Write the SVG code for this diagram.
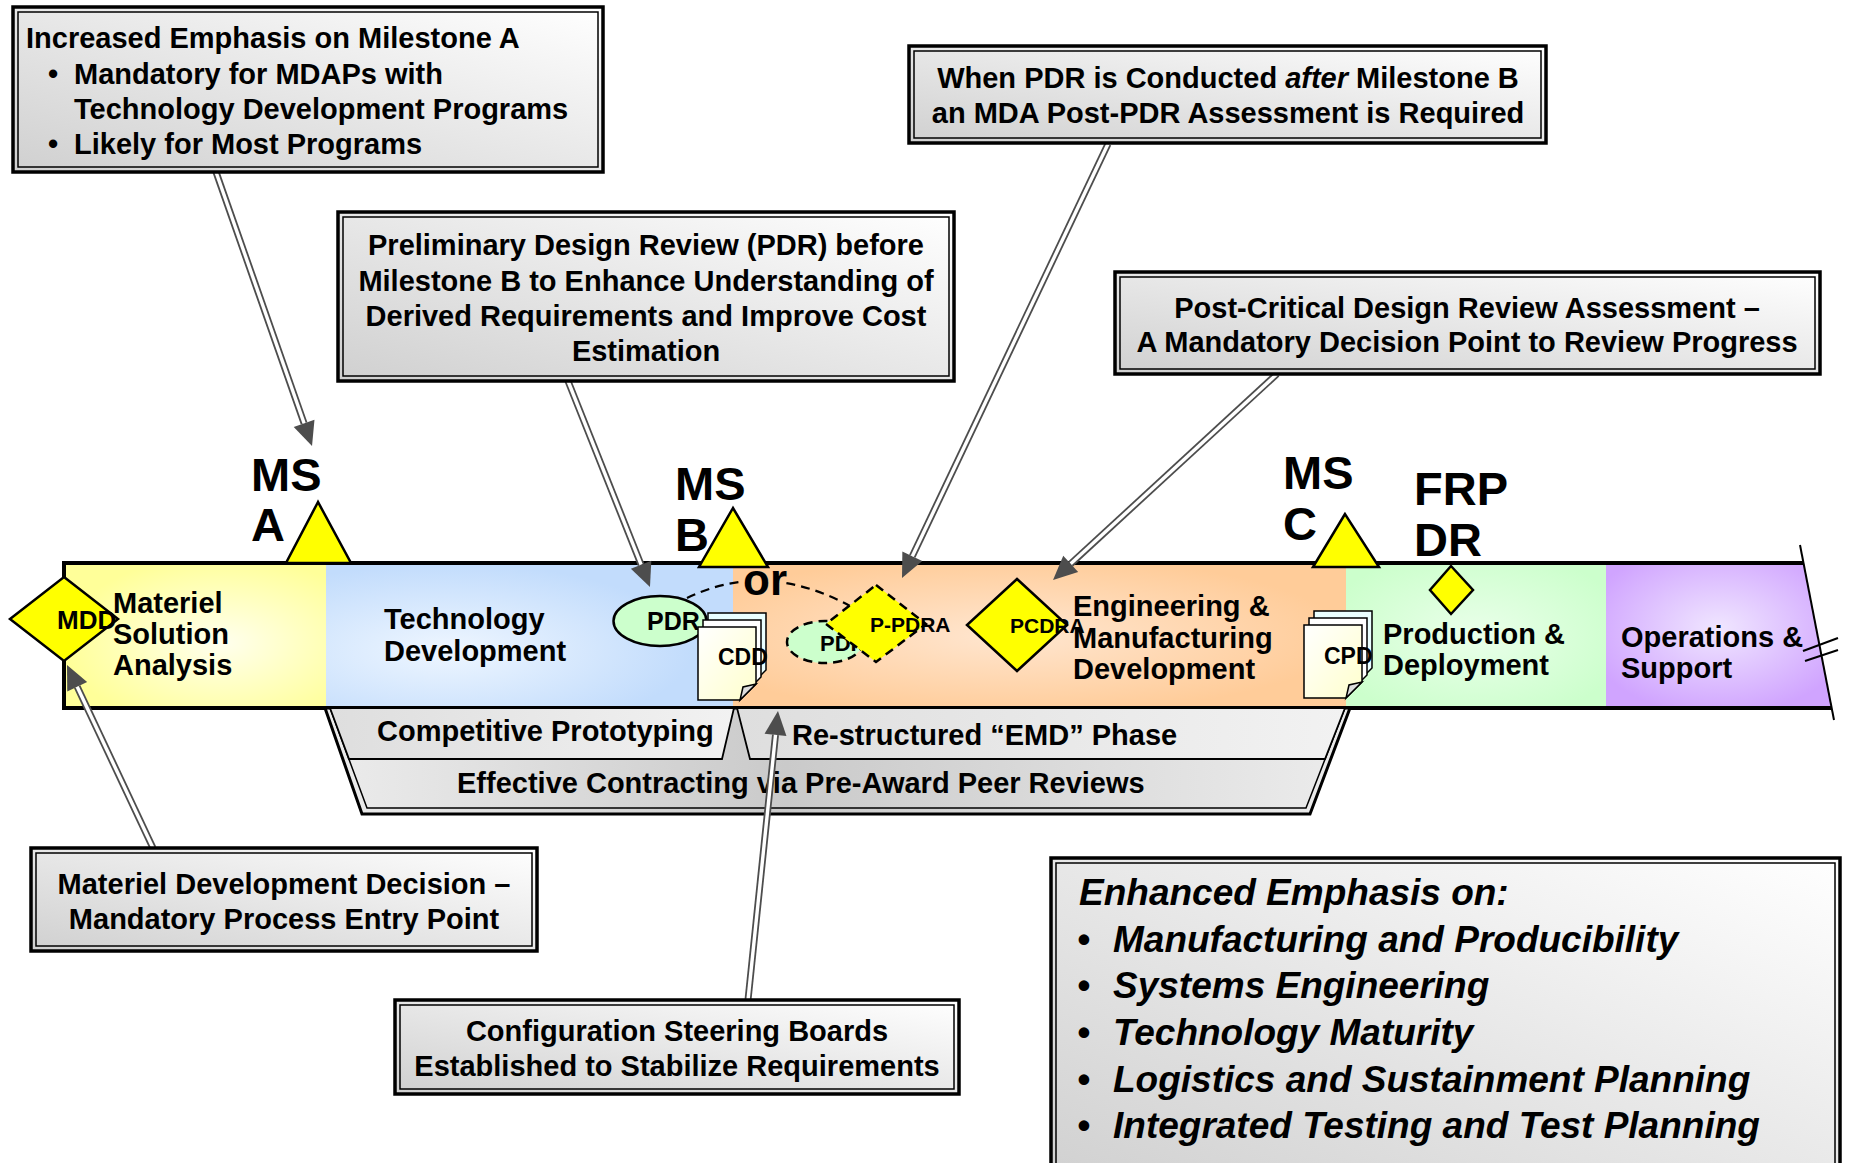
<svg xmlns="http://www.w3.org/2000/svg" width="1849" height="1163" viewBox="0 0 1849 1163">
<defs>
<style>
.t{font-family:"Liberation Sans",Arial,sans-serif;font-weight:bold;fill:#000}
.f29{font-size:29px}
.ms{font-size:47px}
.c{text-anchor:middle}
.it{font-style:italic}
.obox{fill:url(#gBox);stroke:#000;stroke-width:3.5}
.ibox{fill:none;stroke:#000;stroke-width:1.5}
.yel{fill:#ffff00;stroke:#000;stroke-width:2.5;stroke-linejoin:miter}
.dash{stroke-dasharray:9 6}
.co{fill:none;stroke:#4d4d4d;stroke-width:7;marker-end:url(#ah)}
.ci{fill:none;stroke:#fff;stroke-width:3.4}
.pg{stroke:#000;stroke-width:1.5;stroke-linejoin:miter}
</style>
<linearGradient id="gBox" x1="0" y1="1" x2="1" y2="0">
<stop offset="0" stop-color="#d0d0d0"/><stop offset="1" stop-color="#ffffff"/>
</linearGradient>
<radialGradient id="gMSA" cx="0.6" cy="0.55" r="0.6"><stop offset="0" stop-color="#ffffee"/><stop offset="1" stop-color="#ffff99"/></radialGradient>
<radialGradient id="gTD" cx="0.3" cy="0.6" r="0.6"><stop offset="0" stop-color="#eef6ff"/><stop offset="1" stop-color="#c2dcfc"/></radialGradient>
<radialGradient id="gEMD" cx="0.45" cy="0.5" r="0.55"><stop offset="0" stop-color="#ffe6d0"/><stop offset="1" stop-color="#ffcc99"/></radialGradient>
<radialGradient id="gPD" cx="0.5" cy="0.5" r="0.6"><stop offset="0" stop-color="#eaffea"/><stop offset="1" stop-color="#ccffcc"/></radialGradient>
<radialGradient id="gOS" cx="0.5" cy="0.45" r="0.6"><stop offset="0" stop-color="#f0e6ff"/><stop offset="1" stop-color="#d0a4ff"/></radialGradient>
<linearGradient id="gBandU" x1="0" y1="0" x2="1" y2="0"><stop offset="0" stop-color="#dedede"/><stop offset="1" stop-color="#f2f2f2"/></linearGradient>
<linearGradient id="gBandL" x1="0" y1="0" x2="1" y2="0"><stop offset="0" stop-color="#ececec"/><stop offset="0.45" stop-color="#cacaca"/><stop offset="1" stop-color="#ececec"/></linearGradient>
<linearGradient id="gPage" x1="0" y1="0" x2="1" y2="1"><stop offset="0" stop-color="#ffffff"/><stop offset="1" stop-color="#ffffcc"/></linearGradient>
<marker id="ah" markerUnits="userSpaceOnUse" markerWidth="26" markerHeight="24" refX="0" refY="11" orient="auto" overflow="visible">
<path d="M0,0 L24,11 L0,22 z" fill="#4d4d4d"/>
</marker>
<g id="docstack">
<polygon class="pg" fill="#eaffff" points="10,-14 68,-14 68,43 52,59 10,59"/>
<polygon class="pg" fill="#ffffff" points="5,-7 63,-7 63,50 47,66 5,66"/>
<polygon class="pg" fill="url(#gPage)" points="0,0 58,0 58,57 42,73 0,73"/>
<polygon class="pg" fill="#dddddd" points="42,73 58,57 45,60"/>
</g>
</defs>

<rect width="1849" height="1163" fill="#ffffff"/>

<!-- timeline bar -->
<g id="timeline">
<rect x="64" y="563" width="262" height="145" fill="url(#gMSA)"/>
<rect x="326" y="563" width="407" height="145" fill="url(#gTD)"/>
<rect x="733" y="563" width="613" height="145" fill="url(#gEMD)"/>
<rect x="1346" y="563" width="260" height="145" fill="url(#gPD)"/>
<polygon points="1606,563 1803.5,563 1831.7,708 1606,708" fill="url(#gOS)"/>
<path d="M1803.5,563 H64 V708 H1831.7" fill="none" stroke="#000" stroke-width="4"/>
<line x1="1800" y1="545" x2="1834" y2="720" stroke="#000" stroke-width="2"/>
<line x1="1803" y1="651" x2="1838" y2="638" stroke="#000" stroke-width="2"/>
<line x1="1805" y1="661" x2="1838" y2="650" stroke="#000" stroke-width="2"/>
</g>

<g id="phase-msa"><text class="t f29" x="113" y="613">Materiel</text><text class="t f29" x="113" y="644">Solution</text><text class="t f29" x="113" y="675">Analysis</text></g>

<g id="mdd">
<polygon class="yel" points="64,577 118,619 64,661 10,619"/>
<text class="t" font-size="26" x="57" y="629">MDD</text>
</g>

<g id="ms-a">
<polygon class="yel" points="318,502 286,563 351,563"/>
<text class="t ms" x="251" y="491">MS</text><text class="t ms" x="251" y="541">A</text>
</g>

<g id="phase-td"><text class="t f29" x="384" y="629">Technology</text><text class="t f29" x="384" y="661">Development</text></g>

<g id="pdr">
<ellipse cx="660" cy="621" rx="46.5" ry="25" fill="#ccffcc" stroke="#000" stroke-width="2.5"/>
<text class="t" font-size="25" x="647" y="630">PDR</text>
</g>

<g id="cdd">
<use href="#docstack" transform="translate(698,627)"/>
<text class="t" font-size="23" x="718" y="665">CDD</text>
</g>

<g id="or-link">
<path d="M687,598 Q714.3,584.7 742.5,581.7" fill="none" stroke="#000" stroke-width="2.2" class="dash"/>
<path d="M786.4,583.2 Q817.7,588.5 850,606" fill="none" stroke="#000" stroke-width="2.2" class="dash"/>
<text class="t" font-size="44" x="743" y="595">or</text>
</g>

<g id="ms-b">
<polygon class="yel" points="733,508 699,567 768,567"/>
<text class="t ms" x="675" y="500">MS</text><text class="t ms" x="675" y="551">B</text>
</g>

<g id="pdr-after">
<ellipse cx="825" cy="642" rx="38" ry="21" fill="#ccffcc" stroke="#000" stroke-width="2.5" class="dash"/>
<text class="t" font-size="22" x="820" y="651">PDR</text>
</g>

<g id="p-pdra">
<polygon class="yel dash" points="876,585 926,624 876,662 826,624"/>
<text class="t" font-size="21" x="870" y="632">P-PDRA</text>
</g>

<g id="pcdra">
<polygon class="yel" points="1017,579 1067,625 1017,671 967,625"/>
<text class="t" font-size="21" x="1010" y="633">PCDRA</text>
</g>

<g id="phase-emd"><text class="t f29" x="1073" y="616">Engineering &amp;</text><text class="t f29" x="1073" y="648">Manufacturing</text><text class="t f29" x="1073" y="679">Development</text></g>

<g id="ms-c">
<polygon class="yel" points="1345,514 1313,567 1379,567"/>
<text class="t ms" x="1283" y="489">MS</text><text class="t ms" x="1283" y="540">C</text>
</g>

<g id="cpd">
<use href="#docstack" transform="translate(1304,625)"/>
<text class="t" font-size="23" x="1324" y="664">CPD</text>
</g>

<g id="frp-dr">
<polygon class="yel" stroke-width="2" points="1451,566 1473,590 1451,614 1430,590"/>
<text class="t ms" x="1414" y="505">FRP</text><text class="t ms" x="1414" y="556">DR</text>
</g>

<g id="phase-pd"><text class="t f29" x="1383" y="644">Production &amp;</text><text class="t f29" x="1383" y="675">Deployment</text></g>
<g id="phase-os"><text class="t f29" x="1621" y="647">Operations &amp;</text><text class="t f29" x="1621" y="678">Support</text></g>

<!-- bands -->
<g id="band-contracting">
<polygon points="325,708 1350,708 1310,814 362,814" fill="url(#gBandL)" stroke="#000" stroke-width="3"/>
<polygon points="330,708 1345,708 1306,808 367,808" fill="none" stroke="#000" stroke-width="1.5"/>
<text class="t f29" x="457" y="793">Effective Contracting via Pre-Award Peer Reviews</text>
</g>
<g id="band-prototyping">
<polygon points="330,708 734,708 722,759 349,759" fill="url(#gBandU)" stroke="#000" stroke-width="1.8"/>
<text class="t f29" x="377" y="741">Competitive Prototyping</text>
</g>
<g id="band-emd">
<polygon points="737,708 1345,708 1325,759 750,759" fill="url(#gBandU)" stroke="#000" stroke-width="1.8"/>
<text class="t f29" x="792" y="745">Re-structured “EMD” Phase</text>
</g>

<!-- connectors -->
<g id="connectors">
<path class="co" d="M216,172 L304.1,423.3"/><path class="ci" d="M216,172 L304.1,423.3"/>
<path class="co" d="M568,381 L641.1,564.7"/><path class="ci" d="M568,381 L641.1,564.7"/>
<path class="co" d="M1108,144 L912.3,556.3"/><path class="ci" d="M1108,144 L912.3,556.3"/>
<path class="co" d="M1277,374 L1070.7,563.8"/><path class="ci" d="M1277,374 L1070.7,563.8"/>
<path class="co" d="M153,848 L77.2,686.7"/><path class="ci" d="M153,848 L77.2,686.7"/>
<path class="co" d="M748,1000 L775.5,734.9"/><path class="ci" d="M748,1000 L775.5,734.9"/>
</g>

<!-- callout boxes -->
<g id="box-milestone-a">
<rect class="obox" x="13" y="7" width="590" height="165"/>
<rect class="ibox" x="18" y="12" width="580" height="155"/>
<text class="t f29" x="26" y="48">Increased Emphasis on Milestone A</text>
<text class="t f29" x="48" y="84">•</text><text class="t f29" x="74" y="84">Mandatory for MDAPs with</text>
<text class="t f29" x="74" y="119">Technology Development Programs</text>
<text class="t f29" x="48" y="154">•</text><text class="t f29" x="74" y="154">Likely for Most Programs</text>
</g>

<g id="box-pdr">
<rect class="obox" x="338" y="212" width="616" height="169"/>
<rect class="ibox" x="343" y="217" width="606" height="159"/>
<text class="t f29 c" x="646" y="255">Preliminary Design Review (PDR) before</text>
<text class="t f29 c" x="646" y="291">Milestone B to Enhance Understanding of</text>
<text class="t f29 c" x="646" y="326">Derived Requirements and Improve Cost</text>
<text class="t f29 c" x="646" y="361">Estimation</text>
</g>

<g id="box-post-pdr">
<rect class="obox" x="909" y="46" width="637" height="97"/>
<rect class="ibox" x="914" y="51" width="627" height="87"/>
<text class="t f29 c" x="1228" y="88">When PDR is Conducted <tspan class="it">after</tspan> Milestone B</text>
<text class="t f29 c" x="1228" y="123">an MDA Post-PDR Assessment is Required</text>
</g>

<g id="box-post-cdr">
<rect class="obox" x="1115" y="272" width="705" height="102"/>
<rect class="ibox" x="1120" y="277" width="695" height="92"/>
<text class="t f29 c" x="1467" y="318">Post-Critical Design Review Assessment –</text>
<text class="t f29 c" x="1467" y="352">A Mandatory Decision Point to Review Progress</text>
</g>

<g id="box-mdd">
<rect class="obox" x="31" y="848" width="506" height="103"/>
<rect class="ibox" x="36" y="853" width="496" height="93"/>
<text class="t f29 c" x="284" y="894">Materiel Development Decision –</text>
<text class="t f29 c" x="284" y="929">Mandatory Process Entry Point</text>
</g>

<g id="box-csb">
<rect class="obox" x="395" y="1000" width="564" height="94"/>
<rect class="ibox" x="400" y="1005" width="554" height="84"/>
<text class="t f29 c" x="677" y="1041">Configuration Steering Boards</text>
<text class="t f29 c" x="677" y="1076">Established to Stabilize Requirements</text>
</g>

<g id="box-enhanced">
<rect class="obox" x="1051" y="858" width="789" height="330"/>
<rect class="ibox" x="1056" y="863" width="779" height="320"/>
<g class="t it" font-size="37">
<text x="1079" y="905">Enhanced Emphasis on:</text>
<text x="1077" y="952">•</text><text x="1113" y="952">Manufacturing and Producibility</text>
<text x="1077" y="998">•</text><text x="1113" y="998">Systems Engineering</text>
<text x="1077" y="1045">•</text><text x="1113" y="1045">Technology Maturity</text>
<text x="1077" y="1092">•</text><text x="1113" y="1092">Logistics and Sustainment Planning</text>
<text x="1077" y="1138">•</text><text x="1113" y="1138">Integrated Testing and Test Planning</text>
</g>
</g>
</svg>
